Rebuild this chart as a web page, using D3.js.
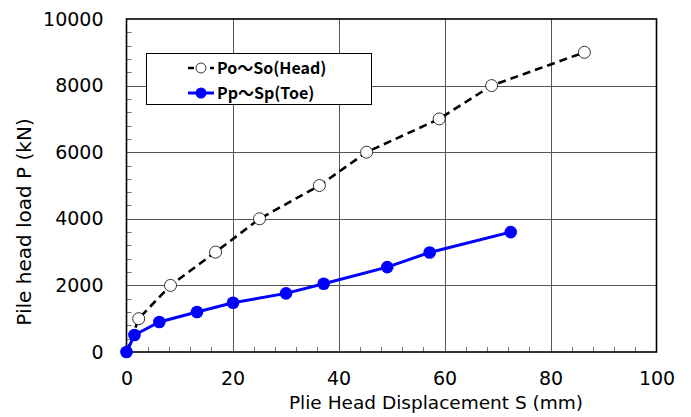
<!DOCTYPE html>
<html><head><meta charset="utf-8">
<script src="https://cdn.jsdelivr.net/npm/d3@7"></script>
<style>body{margin:0;background:#fff}svg{display:block}</style>
</head><body>
<svg id="c" width="691" height="417"></svg>
<script>
const headS = [0, 2.3, 8.3, 16.8, 25.1, 36.4, 45.3, 59.0, 68.9, 86.4];
const headP = [0, 1000, 2000, 3000, 4000, 5000, 6000, 7000, 8000, 9000];
const toeS = [0, 1.5, 6.2, 13.3, 20.1, 30.1, 37.2, 49.2, 57.2, 72.5];
const toeP = [0, 510, 900, 1200, 1480, 1760, 2050, 2550, 2990, 3600];
const xTicks = [0, 20, 40, 60, 80, 100];
const yTicks = [0, 2000, 4000, 6000, 8000, 10000];
const seriesNames = ["Po～So(Head)", "Pp～Sp(Toe)"];
const xTitle = "Plie Head Displacement S (mm)";
const yTitle = "Pile head load P (kN)";

const svg = d3.select("#c");
const L = 126.5, R = 656.5, T = 19, B = 352;
const x = d3.scaleLinear().domain([0, 100]).range([L, R]);
const y = d3.scaleLinear().domain([0, 10000]).range([B, T]);
const font = "'DejaVu Sans', 'Noto Sans CJK JP', sans-serif";
const lfont = "'Noto Sans CJK JP', 'DejaVu Sans', sans-serif";

// grid
const g = svg.append("g");
g.selectAll(".vg").data(xTicks.slice(1, -1)).enter().append("line")
  .attr("x1", d => Math.round(x(d)) + 0.5).attr("x2", d => Math.round(x(d)) + 0.5)
  .attr("y1", T).attr("y2", B).attr("stroke", "#555").attr("stroke-width", 1);
g.selectAll(".hg").data(yTicks.slice(1, -1)).enter().append("line")
  .attr("y1", d => Math.round(y(d)) + 0.5).attr("y2", d => Math.round(y(d)) + 0.5)
  .attr("x1", L).attr("x2", R).attr("stroke", "#555").attr("stroke-width", 1);

// minor ticks
const xMinor = d3.range(0, 101, 4).filter(v => v % 20 !== 0);
const yMinor = d3.range(0, 10001, 400).filter(v => v % 2000 !== 0);
g.selectAll(".xm").data(xMinor).enter().append("line")
  .attr("x1", d => Math.round(x(d)) + 0.5).attr("x2", d => Math.round(x(d)) + 0.5)
  .attr("y1", B).attr("y2", B - 5).attr("stroke", "#777");
g.selectAll(".ym").data(yMinor).enter().append("line")
  .attr("y1", d => Math.round(y(d)) + 0.5).attr("y2", d => Math.round(y(d)) + 0.5)
  .attr("x1", L).attr("x2", L + 5).attr("stroke", "#777");

// frame
svg.append("rect").attr("x", L).attr("y", T).attr("width", R - L).attr("height", B - T)
  .attr("fill", "none").attr("stroke", "#000").attr("stroke-width", 1.6);

// axes labels via d3 axes
const xAxis = svg.append("g").attr("transform", `translate(0,${B})`)
  .call(d3.axisBottom(x).tickValues(xTicks).tickSize(0).tickPadding(20).tickFormat(d3.format("d")));
xAxis.select(".domain").remove();
xAxis.selectAll("text").attr("font-family", font).attr("font-size", 19).attr("fill", "#000").attr("dy", "0.71em");

const yAxis = svg.append("g").attr("transform", `translate(${L},0)`)
  .call(d3.axisLeft(y).tickValues(yTicks).tickSize(0).tickPadding(23).tickFormat(d3.format("d")));
yAxis.select(".domain").remove();
yAxis.selectAll("text").attr("font-family", font).attr("font-size", 19).attr("fill", "#000");

svg.append("text").attr("x", 436).attr("y", 409).attr("text-anchor", "middle")
  .attr("font-family", font).attr("font-size", 18.5).text(xTitle);
svg.append("text").attr("transform", "translate(31,222) rotate(-90)").attr("text-anchor", "middle")
  .attr("font-family", font).attr("font-size", 20).text(yTitle);

// series
const head = headS.map((s, i) => [s, headP[i]]);
const toe = toeS.map((s, i) => [s, toeP[i]]);
const line = d3.line().x(d => x(d[0])).y(d => y(d[1]));

svg.append("path").datum(head).attr("d", line).attr("fill", "none")
  .attr("stroke", "#000").attr("stroke-width", 2.6).attr("stroke-dasharray", "8,5");
svg.selectAll(".hp").data(head.slice(1)).enter().append("circle")
  .attr("cx", d => x(d[0])).attr("cy", d => y(d[1])).attr("r", 6)
  .attr("fill", "#fff").attr("stroke", "#000").attr("stroke-width", 0.8);

svg.append("path").datum(toe).attr("d", line).attr("fill", "none")
  .attr("stroke", "#0000ff").attr("stroke-width", 3);
svg.selectAll(".tp").data(toe).enter().append("circle")
  .attr("cx", d => x(d[0])).attr("cy", d => y(d[1])).attr("r", 6.3)
  .attr("fill", "#0000ff");

// legend
const lg = svg.append("g");
lg.append("rect").attr("x", 146.5).attr("y", 53.5).attr("width", 225).attr("height", 51)
  .attr("fill", "#fff").attr("stroke", "#000").attr("stroke-width", 1);
lg.append("line").attr("x1", 188).attr("x2", 214).attr("y1", 68).attr("y2", 68)
  .attr("stroke", "#000").attr("stroke-width", 2.6).attr("stroke-dasharray", "6,5");
lg.append("circle").attr("cx", 201).attr("cy", 68).attr("r", 5).attr("fill", "#fff").attr("stroke", "#000").attr("stroke-width", 0.8);
lg.append("line").attr("x1", 188).attr("x2", 214).attr("y1", 93).attr("y2", 93)
  .attr("stroke", "#0000ff").attr("stroke-width", 3);
lg.append("circle").attr("cx", 201).attr("cy", 93).attr("r", 5.5).attr("fill", "#0000ff");
lg.selectAll(".lt").data(seriesNames).enter().append("text")
  .attr("x", 217).attr("y", (d, i) => 68 + i * 25).attr("dy", "0.35em")
  .attr("font-family", lfont).attr("font-size", 16).attr("font-weight", "bold").text(d => d);
</script>
</body></html>
